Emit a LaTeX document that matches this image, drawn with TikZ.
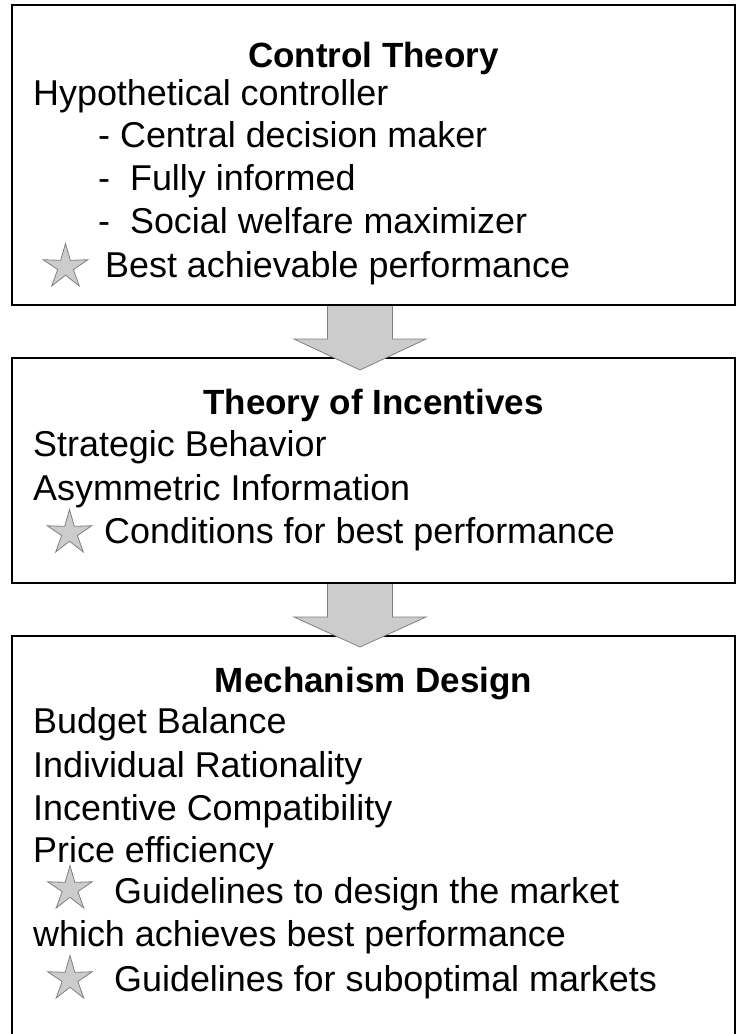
\documentclass[tikz,border=0pt]{standalone}
\usepackage{fontspec}
\setmainfont{Liberation Sans}
\usetikzlibrary{shapes.geometric,calc}

\definecolor{arrowfill}{RGB}{204,204,204}
\definecolor{arrowline}{RGB}{128,128,128}

\tikzset{
  panel/.style={draw=black,line width=2pt,minimum width=723pt,inner sep=0pt},
  txt/.style={anchor=base west,inner sep=0pt,font=\fontsize{35.9}{42}\selectfont},
  head/.style={anchor=base,inner sep=0pt,font=\fontsize{35}{42}\selectfont\bfseries},
  starmark/.style={star,star points=5,star point ratio=2.85,minimum size=47pt,
    inner sep=0pt,draw=arrowline,fill=arrowfill,line width=0.8pt},
  bigarrow/.style={fill=arrowfill,draw=arrowline,line width=0.8pt}
}

\begin{document}
\begin{tikzpicture}[x=1pt,y=-1pt]
        \useasboundingbox (0,0) rectangle (742,1034) ;
        \clip (0,0) rectangle (742,1034) ;
        % the three boxes
        \node[panel,minimum height=300pt] (ct) at (373.5,155) {} ;
        \node[panel,minimum height=225pt] (ti) at (373.5,470.5) {} ;
        \node[panel,minimum height=434pt] (md) at (373.5,853) {} ;
        % box 1
        \node[head] (cthead) at (373.5,67) {Control Theory} ;
        \node[txt] (hypo) at (33,105) {Hypothetical controller} ;
        \node[txt] (central) at (98,147) {- Central decision maker} ;
        \node[txt] (fully) at (98,190) {-\ \ Fully informed} ;
        \node[txt] (social) at (98,233) {-\ \ Social welfare maximizer} ;
        \node[starmark] (star1) at (65.5,267) {} ;
        \node[txt] (best) at (105,277) {Best achievable performance} ;
        % box 2
        \node[head] (tihead) at (373.5,414) {Theory of Incentives} ;
        \node[txt] (strat) at (33,456) {Strategic Behavior} ;
        \node[txt] (asym) at (33,500) {Asymmetric Information} ;
        \node[starmark] (star2) at (69.5,533) {} ;
        \node[txt] (cond) at (104,543) {Conditions for best performance} ;
        % box 3
        \node[head] (mdhead) at (373.5,692) {Mechanism Design} ;
        \node[txt] (budget) at (33,733) {Budget Balance} ;
        \node[txt] (indiv) at (33,777) {Individual Rationality} ;
        \node[txt] (incent) at (33,820) {Incentive Compatibility} ;
        \node[txt] (price) at (33,862) {Price efficiency} ;
        \node[starmark] (star3) at (70,889) {} ;
        \node[txt] (guide1) at (114,903) {Guidelines to design the market} ;
        \node[txt] (which) at (33,946) {which achieves best performance} ;
        \node[starmark] (star4) at (70,979) {} ;
        \node[txt] (guide2) at (114,991) {Guidelines for suboptimal markets} ;
        % block arrows between the boxes
        \coordinate (a1) at ($(ct.south)+(-13.5,0)$) ;
        \coordinate (a2) at ($(ti.south)+(-13.5,0)$) ;
        \draw[bigarrow] ($(a1)+(-32.5,0)$) -- ++(0,33) -- ++(-33.5,0)
          -- ($(a1 |- ti.north)+(0,13)$) -- ($(a1)+(66,33)$) -- ++(-33.5,0)
          -- ++(0,-33) ;
        \draw[bigarrow] ($(a2)+(-32.5,0)$) -- ++(0,33) -- ++(-33.5,0)
          -- ($(a2 |- md.north)+(0,12)$) -- ($(a2)+(66,33)$) -- ++(-33.5,0)
          -- ++(0,-33) ;
      \end{tikzpicture}
\end{document}
